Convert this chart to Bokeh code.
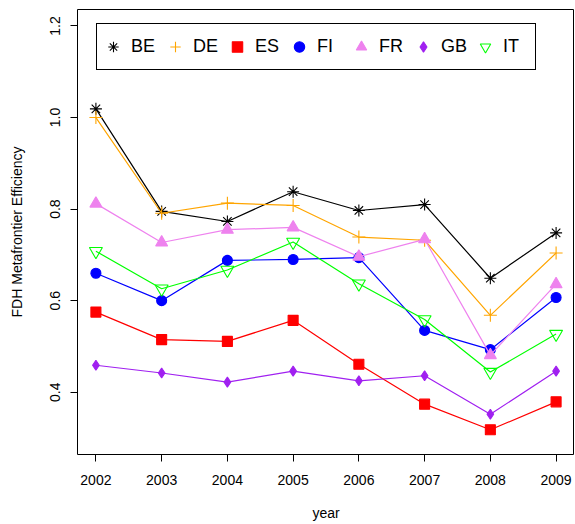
from bokeh.plotting import figure
from bokeh.models import Range1d, FixedTicker, Legend, LegendItem
from bokeh.embed import file_html
from bokeh.resources import INLINE

years = [2002, 2003, 2004, 2005, 2006, 2007, 2008, 2009]
BE = [1.019, 0.795, 0.773, 0.838, 0.797, 0.810, 0.649, 0.748]
DE = [1.000, 0.791, 0.813, 0.808, 0.739, 0.732, 0.568, 0.704]
ES = [0.575, 0.515, 0.511, 0.557, 0.461, 0.374, 0.318, 0.379]
FI = [0.660, 0.600, 0.688, 0.690, 0.694, 0.535, 0.493, 0.607]
FR = [0.812, 0.727, 0.755, 0.760, 0.696, 0.734, 0.481, 0.636]
GB = [0.459, 0.442, 0.422, 0.446, 0.425, 0.436, 0.352, 0.446]
IT = [0.708, 0.626, 0.667, 0.728, 0.637, 0.559, 0.444, 0.527]

series_names = ["BE", "DE", "ES", "FI", "FR", "GB", "IT"]
series_values = [BE, DE, ES, FI, FR, GB, IT]
colors = ["#000000", "#FFA500", "#FF0000", "#0000FF", "#EE82EE", "#A020F0", "#00FF00"]
markers = ["asterisk", "cross", "square", "circle", "triangle", "diamond", "inverted_triangle"]
sizes = [12, 13, 10, 10, 12, 10, 13]
filled = [False, False, True, True, True, True, False]

y_ticks = [0.4, 0.6, 0.8, 1.0, 1.2]
y_tick_labels = ["0.4", "0.6", "0.8", "1.0", "1.2"]

FONT = "Liberation Sans"

p = figure(width=574, height=523, output_backend="svg", toolbar_location=None,
           x_range=Range1d(2001.72, 2009.28), y_range=Range1d(0.264, 1.236),
           min_border_left=77, min_border_right=0, min_border_top=9, min_border_bottom=69,
           x_axis_label="year", y_axis_label="FDH Metafrontier Efficiency")
p.grid.visible = False
p.outline_line_color = "black"
p.outline_line_width = 1
p.outline_line_alpha = 1
p.background_fill_color = "white"
p.border_fill_color = "white"

p.xaxis.ticker = FixedTicker(ticks=years)
p.yaxis.ticker = FixedTicker(ticks=y_ticks)
p.yaxis.major_label_overrides = {t: l for t, l in zip(y_ticks, y_tick_labels)}
p.yaxis.major_label_orientation = "vertical"

for ax in (p.xaxis[0], p.yaxis[0]):
    ax.axis_line_color = None
    ax.major_tick_out = 7
    ax.major_tick_in = 0
    ax.major_tick_line_color = "black"
    ax.minor_tick_line_color = None
    ax.major_label_text_font = FONT
    ax.major_label_text_font_size = "14px"
    ax.major_label_text_color = "black"
    ax.axis_label_text_font = FONT
    ax.axis_label_text_font_size = "14px"
    ax.axis_label_text_font_style = "normal"
    ax.axis_label_text_color = "black"
p.xaxis.major_label_standoff = 13
p.xaxis.axis_label_standoff = 17
p.yaxis.major_label_standoff = 10
p.yaxis.axis_label_standoff = 23

items = []
for name, vals, c, m, s, f in zip(series_names, series_values, colors, markers, sizes, filled):
    p.line(years, vals, line_color=c, line_width=1.2)
    r = p.scatter(years, vals, marker=m, size=s, line_color=c,
                  fill_color=(c if f else None), line_width=1.1)
    items.append(LegendItem(label=name, renderers=[r]))

legend = Legend(items=items, orientation="horizontal", location=(19, 384),
                glyph_width=26, glyph_height=39, label_height=39, label_width=29,
                label_standoff=5, spacing=2, padding=3,
                label_text_font=FONT, label_text_font_size="18px", label_text_color="black",
                border_line_color="black", border_line_width=1, border_line_alpha=1,
                background_fill_color="white", background_fill_alpha=1)
p.add_layout(legend)

open("out.html", "w").write(file_html(p, INLINE))
